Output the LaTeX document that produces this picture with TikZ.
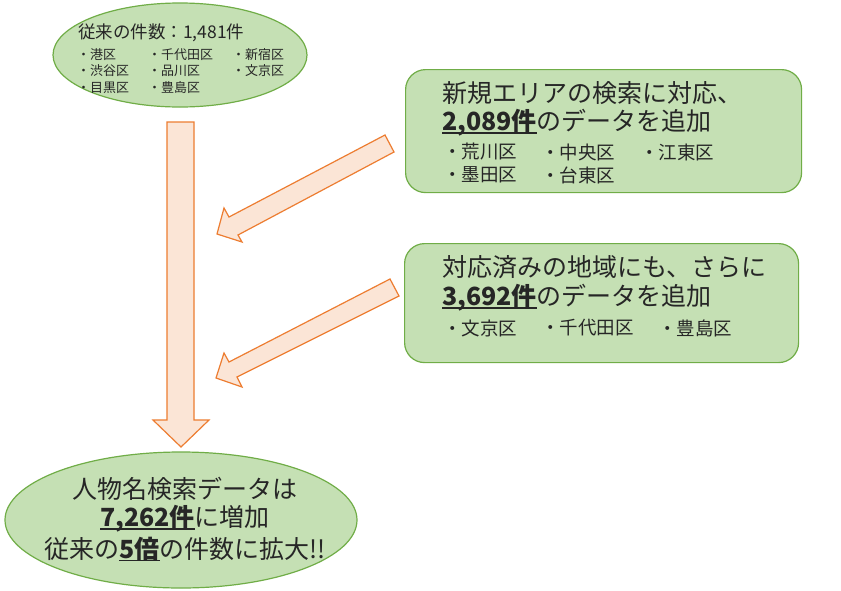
\documentclass[tikz,border=0pt]{standalone}
\usepackage{fontspec}
\setmainfont{Noto Sans CJK JP}
\usetikzlibrary{shapes.geometric}
\definecolor{gfill}{HTML}{C5E0B4}
\definecolor{gline}{HTML}{70AD47}
\definecolor{afill}{HTML}{FBE5D6}
\definecolor{aline}{HTML}{ED7D31}
\definecolor{txt}{HTML}{262626}
\newcommand\ulbold[1]{\setbox0\hbox{\textbf{#1}}\rlap{\rule[-3.2pt]{\wd0}{1.6pt}}\box0}
\tikzset{
  oval/.style={ellipse, draw=gline, fill=gfill, line width=1.2pt, inner sep=0pt},
  panel/.style={rectangle, rounded corners=20pt, draw=gline, fill=gfill, line width=1.2pt, inner sep=0pt, anchor=north west},
  blockarrow/.style={draw=aline, fill=afill, line width=1.2pt, line join=miter},
  lbl/.style={inner sep=0pt, anchor=west, text=txt},
  clbl/.style={inner sep=0pt, anchor=center, text=txt},
  f13/.style={font=\fontsize{13}{15}\selectfont},
  f17/.style={font=\fontsize{17.5}{20}\selectfont},
  f18/.style={font=\fontsize{18.5}{21}\selectfont},
  f25/.style={font=\fontsize{25}{29}\selectfont},
}
\begin{document}
\begin{tikzpicture}[x=1pt, y=-1pt]
\useasboundingbox[fill=white] (0,0) rectangle (841,590);

% shapes
\node[oval, minimum width=254pt, minimum height=104pt] (top) at (180,55) {};
\node[panel, minimum width=396pt, minimum height=123pt] (p1) at (405,69) {};
\node[panel, minimum width=394pt, minimum height=119pt] (p2) at (404,243) {};
\node[oval, minimum width=352pt, minimum height=136pt] (bot) at (181,520) {};

% block arrows
\draw[blockarrow] (167,122) -- (194,122) -- (194,420) -- (209,420) -- (181,447) -- (153,420) -- (167,420) -- cycle;
\draw[blockarrow] (385,135) -- (394,152) -- (238,235) -- (242,242) -- (217,234) -- (224,208) -- (229,217) -- cycle;
\draw[blockarrow] (390,279) -- (399,296) -- (237,377) -- (242,387) -- (216,378) -- (224,353) -- (229,362) -- cycle;

% top ellipse text
\node[lbl, f17] (t0) at (78,33) {従来の件数：1,481件};
\node[lbl, f13] (t11) at (77,55) {・港区};
\node[lbl, f13] (t12) at (148,55) {・千代田区};
\node[lbl, f13] (t13) at (232,55) {・新宿区};
\node[lbl, f13] (t21) at (77,71) {・渋谷区};
\node[lbl, f13] (t22) at (148,71) {・品川区};
\node[lbl, f13] (t23) at (232,71) {・文京区};
\node[lbl, f13] (t31) at (77,88) {・目黒区};
\node[lbl, f13] (t32) at (148,88) {・豊島区};

% panel 1 text
\node[lbl, f25] (a1) at (442,93) {新規エリアの検索に対応、};
\node[lbl, f25] (a2) at (442,123) {\ulbold{2,089件}のデータを追加};
\node[lbl, f18] (a31) at (443,152) {・荒川区};
\node[lbl, f18] (a32) at (541,152) {・中央区};
\node[lbl, f18] (a33) at (640,152) {・江東区};
\node[lbl, f18] (a41) at (443,175) {・墨田区};
\node[lbl, f18] (a42) at (541,175) {・台東区};

% panel 2 text
\node[lbl, f25] (b1) at (442,267) {対応済みの地域にも、さらに};
\node[lbl, f25] (b2) at (442,298) {\ulbold{3,692件}のデータを追加};
\node[lbl, f18] (b31) at (443,328) {・文京区};
\node[lbl, f18] (b32) at (541,328) {・千代田区};
\node[lbl, f18] (b33) at (658,328) {・豊島区};

% bottom ellipse text
\node[clbl, f25] (c1) at (185,489) {人物名検索データは};
\node[clbl, f25] (c2) at (185,519) {\ulbold{7,262件}に増加};
\node[clbl, f25] (c3) at (185,549) {従来の\ulbold{5倍}の件数に拡大!!};
\end{tikzpicture}
\end{document}
